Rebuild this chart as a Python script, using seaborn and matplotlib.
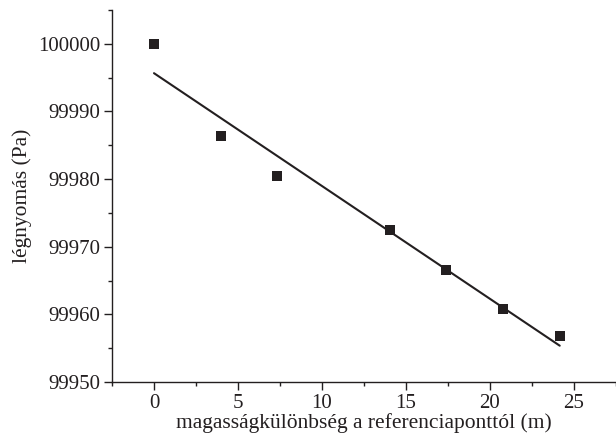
import numpy as np
import seaborn as sns
import matplotlib
matplotlib.use("Agg")
import matplotlib.pyplot as plt
import pandas as pd
from matplotlib.ticker import MultipleLocator, FormatStrFormatter


#%% data
Height   = [0, 3.97, 7.32, 14.03, 17.4, 20.77, 24.15]
Pressure = [100000, 99986.3, 99980.4, 99972.5, 99966.6, 99960.8, 99956.8]

df = pd.DataFrame(data = {"Height": Height, "Pressure": Pressure})


#%% styling
Ink         = "#231f20"
FontName    = ["Liberation Serif", "DejaVu Serif"]
FontSize_TickLabel = 15
FontSize_AxisLabel = 15.5
Axis_LineWidth = 1.0

XLabel  = "magasságkülönbség a referenciaponttól (m)"
YLabel  = "légnyomás (Pa)"
XTicks  = [0, 5, 10, 15, 20, 25]
XLim    = [-2.5, 27.5]
YTicks  = [99950, 99960, 99970, 99980, 99990, 100000]
YLim    = [99950, 100005]

sns.set_style("ticks")
plt.rcParams["font.family"] = FontName
plt.rcParams["text.color"] = Ink
plt.rcParams["axes.labelcolor"] = Ink
plt.rcParams["xtick.color"] = Ink
plt.rcParams["ytick.color"] = Ink

Fig = plt.figure(figsize = [6.16, 4.40], dpi = 100)
ax = plt.axes([0.1818, 0.1318, 0.8182, 0.8455])

sns.regplot(ax = ax,
            data = df,
            x = "Height",
            y = "Pressure",
            ci = None,
            marker = "s",
            scatter_kws = {"s": 55, "color": Ink, "linewidths": 0, "alpha": 1},
            line_kws = {"color": Ink, "linewidth": 1.5})

# axes
ax.set_xlim(XLim)
ax.set_ylim(YLim)
ax.set_xticks(XTicks)
ax.set_yticks(YTicks)
ax.xaxis.set_minor_locator(MultipleLocator(2.5))
ax.yaxis.set_minor_locator(MultipleLocator(5))
ax.yaxis.set_major_formatter(FormatStrFormatter("%d"))

ax.set_xlabel(XLabel, fontsize = FontSize_AxisLabel, labelpad = 0)
ax.set_ylabel(YLabel, fontsize = FontSize_AxisLabel, labelpad = 4)
ax.tick_params(which = "major", direction = "out", length = 6, width = Axis_LineWidth,
               labelsize = FontSize_TickLabel, colors = Ink, pad = 2.5)
ax.tick_params(which = "minor", direction = "out", length = 3, width = Axis_LineWidth,
               colors = Ink)

ax.spines[['right', 'top']].set_visible(False)
ax.spines[['left', 'bottom']].set_linewidth(Axis_LineWidth)
ax.spines[['left', 'bottom']].set_color(Ink)

plt.savefig("out.png", dpi = 100)
